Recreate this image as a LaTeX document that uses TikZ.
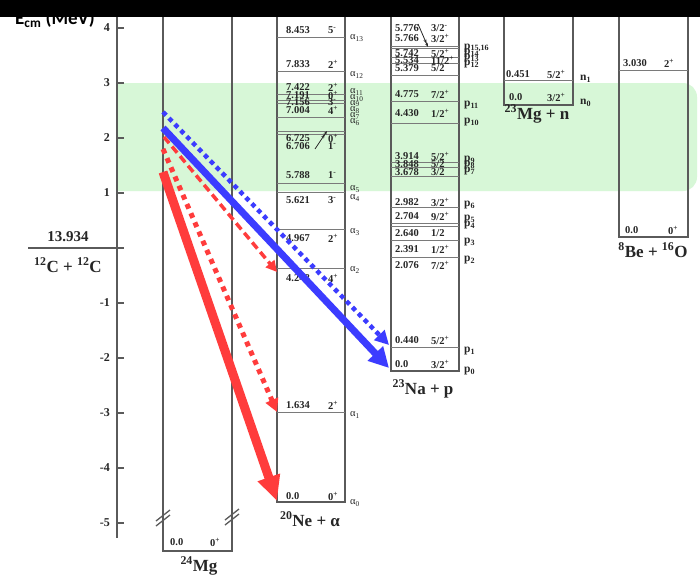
\documentclass[tikz,border=0pt]{standalone}
\usepackage{fontspec}
\setmainfont{Liberation Serif}
\newfontfamily\calib{Carlito}
\usetikzlibrary{arrows.meta}
\definecolor{colgray}{HTML}{5A5A5A}
\definecolor{levgray}{HTML}{7A7A7A}
\definecolor{txt}{HTML}{262626}
\definecolor{band}{HTML}{D7F7D7}
\definecolor{ared}{HTML}{FF3C3C}
\definecolor{ablue}{HTML}{3C3CFF}
\newcommand\spp{\textsuperscript{+}}
\newcommand\spm{\textsuperscript{-}}
\begin{document}
\begin{tikzpicture}[x=1pt,y=-1pt,
  col/.style={draw=colgray, line width=1.3pt},
  lev/.style={draw=levgray, line width=0.9pt},
  num/.style={font=\fontsize{10.5}{11}\selectfont\bfseries, anchor=west, inner sep=0pt, text=txt},
  alab/.style={font=\fontsize{10.5}{11}\selectfont, anchor=west, inner sep=0pt, text=txt},
  plab/.style={font=\fontsize{11.5}{12}\selectfont\bfseries, anchor=west, inner sep=0pt, text=txt},
  big/.style={font=\fontsize{17}{18}\selectfont\bfseries, inner sep=0pt, text=txt, anchor=base},
  ticklab/.style={font=\fontsize{12}{12}\selectfont\bfseries, anchor=east, inner sep=0pt, text=txt},
  slash/.style={draw=txt, line width=0.8pt, -{Stealth[length=4pt,width=3pt]Stealth[length=4pt,width=3pt]}}
]
\useasboundingbox (0,0) rectangle (700,578);
\fill[white] (0,0) rectangle (700,578);
% green band
\begin{scope}
  \clip (118,0) rectangle (700,578);
  \fill[band, rounded corners=14pt] (100,83) rectangle (697,191);
\end{scope}
% energy axis
\draw[col] (117,14) -- (117,538);
\foreach \k in {4,3,2,1,-1,-2,-3,-4,-5}{
  \draw[col] (117,248-55*\k) -- (124,248-55*\k);
  \node[ticklab] (t\k) at (110,248-55*\k) {\k};
}
\draw[col] (28,248) -- (124,248);
\node[big, font=\fontsize{15}{16}\selectfont\bfseries] (q) at (68,241) {13.934};
\node[big] (cc) at (68,272) {\textsuperscript{12}C + \textsuperscript{12}C};
\node[font=\fontsize{19}{20}\selectfont\calib\bfseries, anchor=base west, inner sep=0pt] (ecm) at (15,25) {E\textsubscript{cm} (MeV)};
% 24Mg column
\draw[col] (163,14) -- (163,551) -- (232,551) -- (232,14);
\draw[col] (156,526) -- (170,515);
\draw[col] (156,521) -- (170,510);
\draw[col] (225,525) -- (239,514);
\draw[col] (225,520) -- (239,509);
\node[num] (mg0) at (170,542) {0.0};
\node[num] (mg0s) at (210,542) {0\spp};
\node[big] (mgl) at (199,571) {\textsuperscript{24}Mg};
% 20Ne + alpha column
\draw[col] (277,14) -- (277,502) -- (345,502) -- (345,14);
\foreach \y in {37,71,94,100.5,103,117,131.5,134,183.6,192.8,229,268,412}
  \draw[lev] (277,\y) -- (345,\y);
\foreach \n/\s/\y [count=\i] in {8.453/{5\spm}/30, 7.833/{2\spp}/64, 7.422/{2\spp}/87.5,
  7.191/{0\spp}/95, 7.156/{3\spm}/102.5, 7.004/{4\spp}/110, 6.725/{0\spp}/138,
  6.706/{1\spm}/146, 5.788/{1\spm}/175, 5.621/{3\spm}/200, 4.967/{2\spp}/238,
  4.248/{4\spp}/278, 1.634/{2\spp}/405, 0.0/{0\spp}/496}{
  \node[num] (nen\i) at (286,\y) {\n};
  \node[num] (nes\i) at (328,\y) {\s};
}
\draw[slash] (315,149) -- (327,131);
\foreach \s/\y in {13/38, 12/75, 11/92, 10/98, 9/103.5, 8/110, 7/116, 6/122, 5/189,
  4/198, 3/232, 2/270, 1/415, 0/503}
  \node[alab] (al\s) at (350,\y) {α\textsubscript{\s}};
\node[big] (nel) at (310,526) {\textsuperscript{20}Ne + α};
% 23Na + p column
\draw[col] (391,14) -- (391,371) -- (459,371) -- (459,14);
\foreach \y in {46,48,57,63,75,101,123,162,167.5,176,207,223,226,240.7,257,347.5}
  \draw[lev] (391,\y) -- (459,\y);
\foreach \n/\s/\y [count=\i] in {5.776/{3/2\spm}/28, 5.766/{3/2\spp}/38, 5.742/{5/2\spp}/53,
  5.534/{11/2\spp}/60.5, 5.379/{5/2}/68, 4.775/{7/2\spp}/94, 4.430/{1/2\spp}/113,
  3.914/{5/2\spp}/156, 3.848/{5/2}/164, 3.678/{3/2}/172, 2.982/{3/2\spp}/202,
  2.704/{9/2\spp}/216, 2.640/{1/2}/233, 2.391/{1/2\spp}/249, 2.076/{7/2\spp}/265,
  0.440/{5/2\spp}/340, 0.0/{3/2\spp}/364}{
  \node[num] (nan\i) at (395,\y) {\n};
  \node[num] (nas\i) at (431,\y) {\s};
}
\draw[slash] (418,24) -- (428,47);
\foreach \s/\y/\k in {{15,16}/48/a, 14/53.5/b, 13/58.5/c, 12/64/d, 11/105/e, 10/122/f,
  9/160/g, 8/165.5/h, 7/171/i, 6/205/j, 5/219/k, 4/225/l, 3/242/m, 2/260/n, 1/351/o, 0/371/p}
  \node[plab] (pl\k) at (464,\y) {p\textsubscript{\s}};
\node[big] (nal) at (423,394) {\textsuperscript{23}Na + p};
% 23Mg + n column
\draw[col] (504,14) -- (504,105) -- (573,105) -- (573,14);
\draw[lev] (504,80.5) -- (573,80.5);
\node[num] (mgn1) at (506,74) {0.451};
\node[num] (mgn1s) at (547,74) {5/2\spp};
\node[num] (mgn0) at (509,97) {0.0};
\node[num] (mgn0s) at (547,97) {3/2\spp};
\node[plab] (n1) at (580,79) {n\textsubscript{1}};
\node[plab] (n0) at (580,103) {n\textsubscript{0}};
\node[big] (mgnl) at (537,119) {\textsuperscript{23}Mg + n};
% 8Be + 16O column
\draw[col] (619,14) -- (619,237) -- (688,237) -- (688,14);
\draw[lev] (619,70) -- (688,70);
\node[num] (be1) at (623,63) {3.030};
\node[num] (be1s) at (664,63) {2\spp};
\node[num] (be0) at (625,230) {0.0};
\node[num] (be0s) at (668,230) {0\spp};
\node[big] (bel) at (653,257) {\textsuperscript{8}Be + \textsuperscript{16}O};
% decay arrows
\coordinate (bsS) at (163,128);  \coordinate (bsE) at (389,368);
\coordinate (bdS) at (163,112);  \coordinate (bdE) at (389,345);
\coordinate (rdS) at (164,137);  \coordinate (rdE) at (277,272);
\coordinate (roS) at (163,149);  \coordinate (roE) at (277,412);
\coordinate (rsS) at (163,172);  \coordinate (rsE) at (277,501);
\draw[ablue, line width=4.5pt, dash pattern=on 4.5pt off 4pt, -{Triangle[length=14pt,width=14pt]}] (bdS) -- (bdE);
\draw[ablue, line width=7pt, -{Triangle[length=20pt,width=20pt]}] (bsS) -- (bsE);
\draw[ared, line width=3.5pt, dash pattern=on 8pt off 4.5pt, -{Triangle[length=11pt,width=11pt]}] (rdS) -- (rdE);
\draw[ared, line width=5pt, dash pattern=on 5pt off 5pt, -{Triangle[length=13pt,width=13pt]}] (roS) -- (roE);
\draw[ared, line width=9pt, -{Triangle[length=25pt,width=22pt]}] (rsS) -- (rsE);
% top black bar
\fill[black] (0,0) rectangle (700,17);
\end{tikzpicture}
\end{document}
